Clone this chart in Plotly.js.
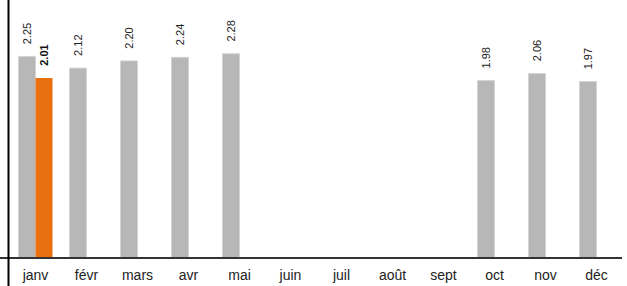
<!DOCTYPE html>
<html>
<head>
<meta charset="utf-8">
<script src="https://cdn.plot.ly/plotly-3.0.1.min.js"></script>
<style>html,body{margin:0;padding:0;background:#fff;}#chart{width:627px;height:286px;}</style>
</head>
<body>
<div id="chart"></div>
<script>
const months = ['janv','févr','mars','avr','mai','juin','juil','août','sept','oct','nov','déc'];
const previousYear = [2.25, 2.12, 2.20, 2.24, 2.28, null, null, null, null, 1.98, 2.06, 1.97];
const currentYear = [2.01, null, null, null, null, null, null, null, null, null, null, null];

// invisible leading characters create the gap between bar top and rotated label
const gap = '<span style="color:rgba(0,0,0,0)">0.</span>';
const fmt = v => v == null ? '' : gap + v.toFixed(2);

const traces = [
  {
    type: 'bar', x: months, y: previousYear,
    text: previousYear.map(fmt),
    textposition: 'outside', textangle: -90, constraintext: 'none',
    textfont: {family: 'Arial, Liberation Sans, sans-serif', size: 11, color: '#222'},
    marker: {color: '#b7b7b7', line: {color: '#d4d4d4', width: 1}},
    cliponaxis: false, hoverinfo: 'skip'
  },
  {
    type: 'bar', x: months, y: currentYear,
    text: currentYear.map(v => v == null ? '' : gap + '<b>' + v.toFixed(2) + '</b>'),
    textposition: 'outside', textangle: -90, constraintext: 'none',
    textfont: {family: 'Arial, Liberation Sans, sans-serif', size: 11, color: '#111'},
    marker: {color: '#e8700f'},
    cliponaxis: false, hoverinfo: 'skip'
  }
];

const layout = {
  width: 627, height: 286,
  margin: {l: 10, r: 5, t: 0, b: 28},
  paper_bgcolor: '#fff', plot_bgcolor: '#fff',
  showlegend: false,
  barmode: 'group', bargap: 0.333, bargroupgap: 0,
  xaxis: {
    type: 'category', showgrid: false, zeroline: false, showline: false,
    ticks: 'outside', ticklen: 4, tickcolor: 'rgba(0,0,0,0)',
    tickfont: {family: 'Arial, Liberation Sans, sans-serif', size: 14, color: '#222'},
    fixedrange: true
  },
  yaxis: {
    range: [0, 2.88], showgrid: false, zeroline: false, showline: false,
    showticklabels: false, ticks: '', fixedrange: true
  },
  shapes: [
    {type: 'line', xref: 'paper', yref: 'paper', x0: -10/612, x1: 1, y0: 0, y1: 0,
     layer: 'above', line: {color: '#333', width: 2}},
    {type: 'line', xref: 'paper', yref: 'paper', x0: -1.5/612, x1: -1.5/612, y0: -28/258, y1: 1,
     layer: 'above', line: {color: '#000', width: 2}}
  ]
};

Plotly.newPlot('chart', traces, layout, {displayModeBar: false, staticPlot: true});
</script>
</body>
</html>
